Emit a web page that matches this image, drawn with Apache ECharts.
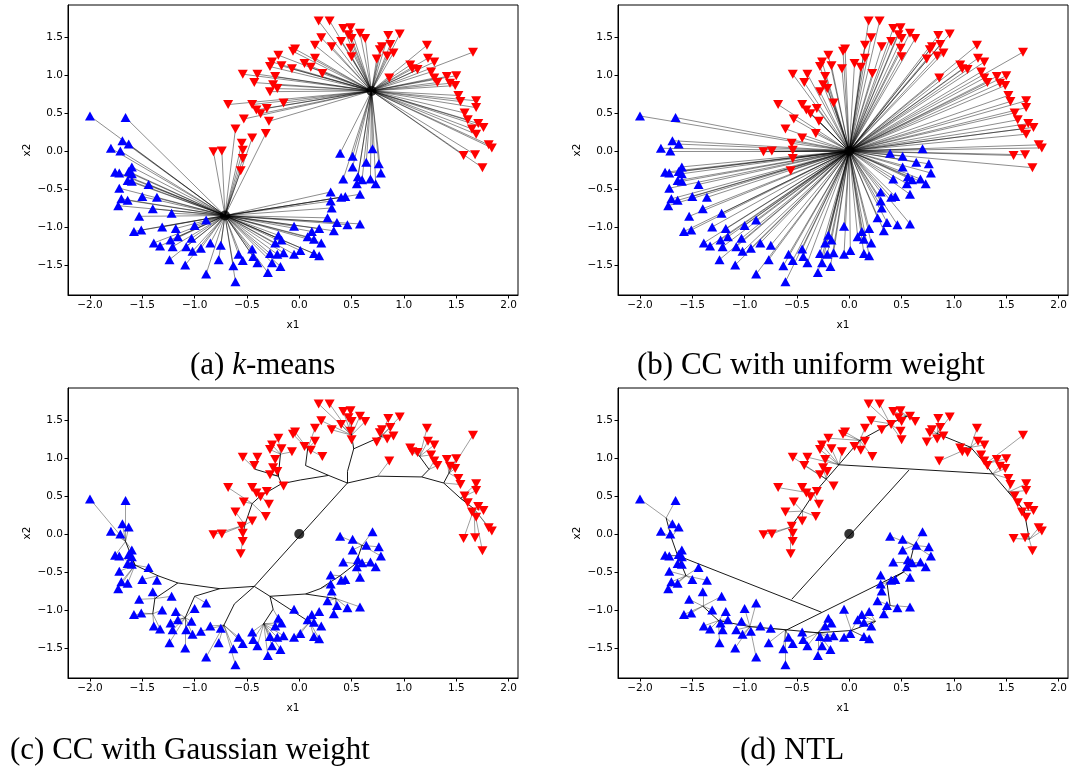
<!DOCTYPE html>
<html>
<head>
<meta charset="utf-8">
<script src="https://cdn.jsdelivr.net/npm/echarts@6/dist/echarts.min.js"></script>
<style>
  html, body { margin: 0; padding: 0; background: #fff; }
  #main { width: 1074px; height: 772px; }
</style>
</head>
<body>
<div id="main"></div>
<script>
// two moons
var bluePts = [
  [-2.0,0.46],[-1.66,0.44],[-1.69,0.135],[-1.63,0.09],[-1.80,0.035],[-1.71,0.0],[-1.60,-0.21],[-1.76,-0.28],
  [-1.72,-0.29],[-1.63,-0.27],[-1.60,-0.30],[-1.64,-0.39],[-1.60,-0.40],[-1.44,-0.44],[-1.72,-0.49],[-1.50,-0.60],
  [-1.36,-0.61],[-1.70,-0.63],[-1.64,-0.65],[-1.73,-0.72],[-1.40,-0.76],[-1.22,-0.82],[-1.53,-0.86],[-1.31,-1.0],
  [-1.18,-1.02],[-1.0,-0.98],[-0.89,-0.91],[-1.58,-1.06],[-1.51,-1.04],[-1.39,-1.21],[-1.33,-1.25],[-1.23,-1.17],
  [-1.16,-1.13],[-1.21,-1.26],[-1.03,-1.15],[-1.08,-1.26],[-1.02,-1.32],[-0.94,-1.28],[-0.85,-1.21],[-0.75,-1.24],
  [-1.24,-1.43],[-1.09,-1.50],[-0.77,-1.43],[-0.58,-1.36],[-0.63,-1.51],[-0.89,-1.62],[-0.61,-1.72],[-0.54,-1.44],
  [0.39,-0.03],[0.51,-0.07],[0.70,0.03],[0.64,-0.15],[0.76,-0.17],[0.51,-0.21],[0.78,-0.29],[0.42,-0.37],
  [0.56,-0.34],[0.60,-0.38],[0.68,-0.37],[0.55,-0.43],[0.73,-0.43],[0.30,-0.54],[0.58,-0.57],[0.40,-0.61],
  [0.44,-0.60],[0.30,-0.66],[0.31,-0.75],[0.27,-0.88],[0.36,-0.94],[0.46,-0.97],[0.58,-0.96],[0.33,-1.05],
  [0.19,-1.02],[-0.05,-0.99],[0.12,-1.06],[0.08,-1.13],[0.14,-1.16],[0.21,-1.21],[-0.20,-1.11],[-0.17,-1.17],
  [-0.23,-1.21],[0.01,-1.31],[-0.05,-1.36],[0.14,-1.35],[0.19,-1.38],[-0.15,-1.34],[-0.21,-1.36],[-0.28,-1.35],
  [-0.45,-1.29],[-0.44,-1.39],[-0.40,-1.47],[-0.26,-1.47],[-0.18,-1.52],[-0.30,-1.60]
];
var redPts = [
  [-0.68,0.61],[-0.53,0.42],[-0.61,0.29],[-0.82,-0.01],[-0.74,0.0],[-0.55,0.10],[-0.54,0.01],[-0.54,-0.10],
  [-0.56,-0.26],[0.185,1.71],[0.29,1.71],[0.42,1.61],[0.49,1.62],[0.47,1.53],[0.50,1.48],[0.58,1.55],
  [0.63,1.48],[0.21,1.49],[0.40,1.44],[0.31,1.37],[0.15,1.39],[0.49,1.35],[0.50,1.24],[-0.04,1.34],
  [-0.06,1.31],[-0.20,1.26],[0.15,1.22],[0.05,1.15],[0.11,1.10],[0.22,1.02],[-0.26,1.17],[-0.28,1.11],
  [-0.17,1.12],[-0.07,1.08],[-0.54,1.01],[-0.40,1.01],[-0.43,0.90],[-0.23,0.98],[-0.25,0.87],[-0.21,0.82],
  [-0.28,0.78],[-0.45,0.61],[-0.41,0.54],[-0.31,0.56],[-0.15,0.63],[-0.37,0.49],[-0.29,0.39],[-0.45,0.17],
  [-0.32,0.23],[0.85,1.52],[0.96,1.54],[0.79,1.37],[0.87,1.40],[0.77,1.33],[0.90,1.29],[0.84,1.25],
  [0.74,1.21],[1.22,1.39],[1.66,1.30],[1.23,1.22],[1.29,1.17],[1.06,1.13],[1.08,1.08],[1.13,1.07],
  [1.26,1.04],[0.86,0.96],[1.29,0.96],[1.32,0.90],[1.41,0.98],[1.50,0.99],[1.44,0.89],[1.49,0.86],
  [1.52,0.73],[1.54,0.65],[1.69,0.66],[1.69,0.57],[1.58,0.50],[1.61,0.41],[1.71,0.36],[1.76,0.31],
  [1.65,0.29],[1.69,0.22],[1.81,0.08],[1.84,0.04],[1.57,-0.06],[1.68,-0.05],[1.75,-0.22]
];

// (a) k-means centres, (b) single centre
var kmCenters = [[-0.71,-0.85],[0.69,0.79]];
var origin = [[0,0]];

// (c) CC tree: nodes and parent index
var ccRedNodes = [
  [0.46,0.67],[0.28,0.77],[0.01,0.71],[-0.17,0.66],[-0.37,0.50],[-0.45,0.40],[-0.52,0.12],[0.46,0.82],
  [0.52,1.12],[0.50,1.30],[0.06,0.90],[0.08,1.12],[-0.20,0.76],[-0.18,1.05],[0.75,0.76],[1.17,0.75],
  [1.24,0.85],[0.78,1.28],[1.38,0.67],[1.43,0.80],[1.54,0.47],[1.67,0.33],[1.15,1.02],[-0.42,0.85]
];
var ccRedParent = [-1,0,1,2,3,4,5,0,7,8,1,10,3,12,0,14,15,8,15,18,18,20,16,12];
var ccBlueNodes = [
  [-0.43,-0.69],[-0.76,-0.72],[-1.16,-0.645],[-1.35,-0.55],[-1.57,-0.41],[-1.66,-0.10],[-1.00,-0.82],[-1.09,-1.10],
  [-1.38,-0.85],[-1.40,-1.05],[-0.62,-0.92],[-0.72,-1.20],[-0.28,-0.82],[0.06,-0.79],[0.20,-0.72],[0.39,-0.55],
  [0.54,-0.39],[0.60,-0.15],[-0.25,-0.99],[-0.34,-1.18],[-0.09,-0.99],[0.10,-1.16],[0.35,-0.85]
];
var ccBlueParent = [-1,0,1,2,3,4,1,6,2,8,0,10,0,12,13,14,15,16,12,18,12,20,13];

// (d) NTL backbones and long links
var ntlRedChains = [
  [[-0.56,0.09],[-0.45,0.30],[-0.34,0.53],[-0.22,0.72],[-0.10,0.91],[0.10,1.23],[0.39,1.45],[0.55,1.55]],
  [[0.84,1.32],[1.16,1.14],[1.30,0.92],[1.37,0.79],[1.52,0.55],[1.67,0.31],[1.72,-0.07]]
];
var ntlBlueChains = [
  [[-1.75,0.21],[-1.70,-0.05],[-1.64,-0.285],[-1.56,-0.55]],
  [[-1.40,-0.95],[-1.25,-1.14],[-0.95,-1.22],[-0.61,-1.26],[-0.30,-1.30],[0.02,-1.27],[0.25,-1.15]],
  [[0.39,-0.94],[0.36,-0.64],[0.52,-0.50],[0.58,-0.37],[0.62,-0.15]]
];
var ntlLinks = [
  [[-1.64,-0.285],[-0.265,-1.03]],
  [[-0.61,-1.27],[0.52,-0.50]],
  [[-0.55,-0.86],[0.57,0.84]],
  [[-0.10,0.91],[1.37,0.79]]
];

var xTicks = [-2.0,-1.5,-1.0,-0.5,0.0,0.5,1.0,1.5,2.0];
var yTicks = [-1.5,-1.0,-0.5,0.0,0.5,1.0,1.5];
var captions = ['(a) {it|k}-means', '(b) CC with uniform weight', '(c) CC with Gaussian weight', '(d) NTL'];

function nearest(p, nodes) {
    var best = 0, bd = Infinity;
    for (var i = 0; i < nodes.length; i++) {
        var dx = nodes[i][0] - p[0], dy = nodes[i][1] - p[1];
        var d = dx * dx + dy * dy;
        if (d < bd) { bd = d; best = i; }
    }
    return nodes[best];
}
function toPoint(pts, nodes) {
    return pts.map(function (p) { return { coords: [p, nearest(p, nodes)] }; });
}
function treeEdges(nodes, parent) {
    var out = [];
    parent.forEach(function (q, i) {
        if (q >= 0) out.push({ coords: [nodes[i], nodes[q]] });
    });
    return out;
}
function chainEdges(chains) {
    var out = [];
    chains.forEach(function (c) {
        for (var i = 1; i < c.length; i++) out.push({ coords: [c[i - 1], c[i]] });
    });
    return out;
}
function flat(chains) {
    return [].concat.apply([], chains);
}

var allPts = bluePts.concat(redPts);
var leafLines = [
    toPoint(allPts, kmCenters),
    toPoint(allPts, origin),
    toPoint(bluePts, ccBlueNodes).concat(toPoint(redPts, ccRedNodes)),
    toPoint(bluePts, flat(ntlBlueChains)).concat(toPoint(redPts, flat(ntlRedChains)))
];
var treeLines = [
    [],
    [],
    treeEdges(ccRedNodes, ccRedParent).concat(treeEdges(ccBlueNodes, ccBlueParent))
        .concat([{ coords: [ccBlueNodes[0], ccRedNodes[0]] }]),
    chainEdges(ntlRedChains).concat(chainEdges(ntlBlueChains))
        .concat(ntlLinks.map(function (l) { return { coords: l }; }))
];
var centerDots = [kmCenters, origin, origin, origin];

var gridPos = [[68, 5], [618, 5], [68, 388], [618, 388]];
var capPos = [[190, 367], [637, 367], [10, 752], [740, 752]];

function fmt(v) {
    return (v < 0 ? '\u2212' : '') + Math.abs(v).toFixed(1);
}
var tickFont = { fontFamily: 'DejaVu Sans', fontSize: 10.5, color: '#000' };

var grids = [], xAxes = [], yAxes = [], series = [], graphics = [];
gridPos.forEach(function (g, i) {
    grids.push({
        left: g[0], top: g[1], width: 450, height: 290,
        show: true, borderColor: '#000', borderWidth: 1, backgroundColor: 'transparent'
    });
    xAxes.push({
        type: 'value', gridIndex: i, min: -2.21, max: 2.09,
        name: 'x1', nameLocation: 'middle', nameGap: 25,
        nameTextStyle: tickFont,
        axisLine: { show: true, onZero: false, lineStyle: { color: '#000', width: 1 } },
        axisTick: { show: true, length: 3.5, customValues: xTicks, lineStyle: { color: '#000' } },
        axisLabel: Object.assign({ customValues: xTicks, formatter: fmt, margin: 5 }, tickFont),
        splitLine: { show: false }
    });
    yAxes.push({
        type: 'value', gridIndex: i, min: -1.895, max: 1.92,
        name: 'x2', nameLocation: 'middle', nameGap: 35, nameRotate: 90,
        nameTextStyle: tickFont,
        axisLine: { show: true, onZero: false, lineStyle: { color: '#000', width: 1 } },
        axisTick: { show: true, length: 3.5, customValues: yTicks, lineStyle: { color: '#000' } },
        axisLabel: Object.assign({ customValues: yTicks, formatter: fmt, margin: 5 }, tickFont),
        splitLine: { show: false }
    });
    series.push({
        type: 'lines', coordinateSystem: 'cartesian2d', xAxisIndex: i, yAxisIndex: i,
        silent: true, data: leafLines[i], z: 1,
        lineStyle: { color: '#000', width: i < 2 ? 0.6 : 0.7, opacity: i < 2 ? 0.75 : 0.55 }
    });
    series.push({
        type: 'lines', coordinateSystem: 'cartesian2d', xAxisIndex: i, yAxisIndex: i,
        silent: true, data: treeLines[i], z: 2,
        lineStyle: { color: '#000', width: 1, opacity: 0.9 }
    });
    series.push({
        type: 'scatter', xAxisIndex: i, yAxisIndex: i, data: bluePts, z: 3,
        symbol: 'triangle', symbolSize: [10, 9],
        itemStyle: { color: '#0000ff', opacity: 1 }
    });
    series.push({
        type: 'scatter', xAxisIndex: i, yAxisIndex: i, data: redPts, z: 3,
        symbol: 'triangle', symbolSize: [10, 9], symbolRotate: 180,
        itemStyle: { color: '#ff0000', opacity: 1 }
    });
    series.push({
        type: 'scatter', xAxisIndex: i, yAxisIndex: i, data: centerDots[i], z: 4,
        symbol: 'circle', symbolSize: 10,
        itemStyle: { color: '#000' }
    });
    graphics.push({
        type: 'text', left: capPos[i][0], top: capPos[i][1] - 17,
        style: {
            text: captions[i],
            fontFamily: 'Liberation Serif', fontSize: 31, fill: '#000',
            rich: { it: { fontFamily: 'Liberation Serif', fontSize: 31, fontStyle: 'italic' } }
        }
    });
});

var chart = echarts.init(document.getElementById('main'));
chart.setOption({
    animation: false,
    backgroundColor: '#fff',
    grid: grids,
    xAxis: xAxes,
    yAxis: yAxes,
    series: series,
    graphic: graphics
});
window.addEventListener('resize', function () {
    chart.resize();
});
</script>
</body>
</html>
